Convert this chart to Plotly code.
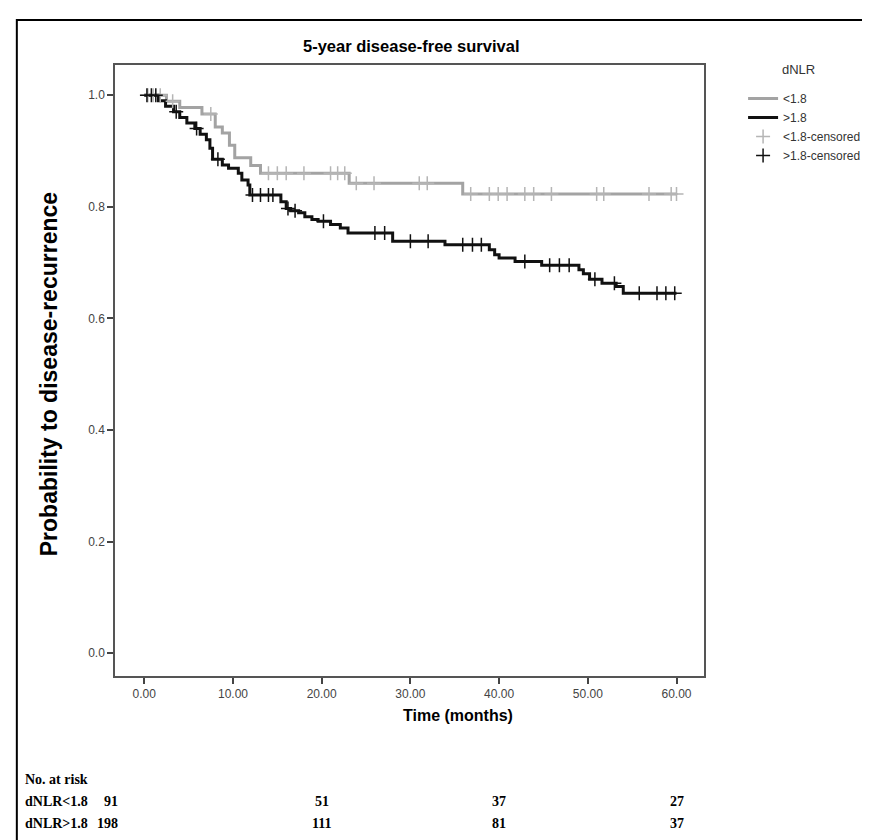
import plotly.graph_objects as go

# ---------------- data ----------------
group_labels = ["<1.8", ">1.8"]
end_time = 60.0

# dNLR < 1.8 : step times (months) and survival after each step
lt_step_times = [0, 2.5, 4.0, 6.5, 8.0, 8.8, 9.6, 10.2, 12.0, 13.1, 23.1, 35.9]
lt_step_surv = [1.0, 0.989, 0.978, 0.966, 0.943, 0.932, 0.910, 0.888, 0.874, 0.860, 0.842, 0.823]
lt_censored = [0.4, 1.0, 1.8, 3.2, 7.5, 14.0, 15.0, 16.0, 18.0, 21.0, 21.8, 22.6, 23.9,
               25.9, 31.0, 31.9, 36.8, 38.9, 39.9, 40.9, 42.9, 43.9, 45.9, 51.0, 51.8,
               56.9, 59.4, 60.0]

# dNLR > 1.8
gt_step_times = [0, 1.6, 2.4, 3.3, 4.0, 4.8, 5.7, 6.3, 7.0, 7.4, 7.7, 8.8, 9.5, 10.6,
                 11.0, 11.7, 11.9, 15.4, 16.0, 16.5, 17.4, 18.1, 18.9, 19.6, 21.0, 22.1,
                 22.97, 28.0, 33.9, 38.9, 39.5, 40.0, 41.8, 44.8, 49.0, 49.5, 50.2, 51.6,
                 53.2, 54.0]
gt_step_surv = [1.0, 0.990, 0.980, 0.970, 0.960, 0.950, 0.940, 0.930, 0.920, 0.905, 0.885,
                0.875, 0.869, 0.860, 0.848, 0.839, 0.821, 0.809, 0.797, 0.793, 0.789,
                0.782, 0.777, 0.774, 0.768, 0.762, 0.753, 0.738, 0.732, 0.723, 0.714,
                0.708, 0.702, 0.695, 0.687, 0.680, 0.670, 0.663, 0.657, 0.645]
gt_censored = [0.3, 0.8, 1.3, 3.6, 5.9, 8.3, 12.2, 13.1, 14.0, 14.5, 16.2, 17.0, 20.2,
               26.0, 27.1, 30.0, 32.0, 35.9, 37.0, 38.0, 42.9, 45.7, 46.8, 47.9, 50.8,
               53.0, 55.8, 57.8, 58.8, 59.8]

x_ticks = [0, 10, 20, 30, 40, 50, 60]
y_ticks = [0.0, 0.2, 0.4, 0.6, 0.8, 1.0]

risk_times = [0, 20, 40, 60]
risk_lt = [91, 51, 37, 27]
risk_gt = [198, 111, 81, 37]
risk_row_labels = ["dNLR<1.8", "dNLR>1.8"]


def surv_at(t, times, surv):
    s = surv[0]
    for tt, ss in zip(times, surv):
        if tt <= t:
            s = ss
    return s


# plot-area geometry in pixels (for placing texts)
L, R, T, B = 107, 725, 57, 668
W, H = R - L, B - T


def px(x):
    return (x - L) / W


def py(y):
    return (B - y) / H


fig = go.Figure()

gray = "#a3a3a3"
black = "#111111"

for name, times, surv, col in [
    (group_labels[0], lt_step_times, lt_step_surv, gray),
    (group_labels[1], gt_step_times, gt_step_surv, black),
]:
    fig.add_trace(go.Scatter(
        x=times + [end_time], y=surv + [surv[-1]], mode="lines",
        line=dict(shape="hv", color=col, width=3), name=name))

for name, cens, times, surv, col in [
    (group_labels[0] + "-censored", lt_censored, lt_step_times, lt_step_surv, "#b5b5b5"),
    (group_labels[1] + "-censored", gt_censored, gt_step_times, gt_step_surv, black),
]:
    fig.add_trace(go.Scatter(
        x=cens, y=[surv_at(c, times, surv) for c in cens], mode="markers",
        marker=dict(symbol="cross-thin", size=10, line=dict(color=col, width=1.5)),
        name=name))

axis_common = dict(showgrid=False, zeroline=False, showline=True, mirror=True,
                   linecolor="#555555", linewidth=1.5, ticks="outside", ticklen=6,
                   tickcolor="#444444", tickwidth=1.5,
                   tickfont=dict(family="Arial, Liberation Sans", size=12, color="#444444"))

fig.update_xaxes(range=[-3.3, 63.1], tickvals=x_ticks, tickformat=".2f", **axis_common)
fig.update_yaxes(range=[-0.041, 1.054], tickvals=y_ticks, tickformat=".1f", **axis_common)

fig.update_layout(
    width=870, height=840,
    margin=dict(l=L, r=870 - R, t=T, b=840 - B),
    plot_bgcolor="white", paper_bgcolor="white",
    font=dict(family="Arial, Liberation Sans", color="#333333"),
    legend=dict(x=px(766), y=py(76), xanchor="left", yanchor="top",
                bgcolor="rgba(0,0,0,0)",
                font=dict(size=12, color="#333333"), tracegroupgap=0, itemwidth=30),
    showlegend=True,
)

bold = dict(family="Arial, Liberation Sans", color="black")

# chart title
fig.add_annotation(text="<b>5-year disease-free survival</b>", xref="paper", yref="paper",
                   x=px(418), y=py(38), xanchor="center", yanchor="middle",
                   showarrow=False, font=dict(size=16.5, **bold))
# axis titles
fig.add_annotation(text="<b>Time (months)</b>", xref="paper", yref="paper",
                   x=px(467), y=py(707), xanchor="center", yanchor="middle",
                   showarrow=False, font=dict(size=16, **bold))
fig.add_annotation(text="<b>Probability to disease-recurrence</b>", xref="paper",
                   yref="paper", x=px(38), y=py(366), xanchor="center", yanchor="middle",
                   textangle=-90, showarrow=False, font=dict(size=23, **bold))
# legend title
fig.add_annotation(text="dNLR", xref="paper", yref="paper", x=px(805), y=py(62),
                   xanchor="left", yanchor="middle", showarrow=False,
                   font=dict(family="Arial, Liberation Sans", size=13, color="#333333"))

# outer frame
fig.add_shape(type="rect", xref="paper", yref="paper", x0=px(4), x1=px(900), y0=py(900),
              y1=py(12), line=dict(color="black", width=2))

# risk table
serif = "Liberation Serif, Times New Roman"
fig.add_annotation(text="<b>No. at risk</b>", xref="paper", yref="paper",
                   x=px(10), y=py(771), xanchor="left", yanchor="middle",
                   showarrow=False, font=dict(family=serif, size=14, color="black"))
for row, (lab, vals) in enumerate(zip(risk_row_labels, [risk_lt, risk_gt])):
    ypos = py(793 + 22 * row)
    fig.add_annotation(text="<b>" + lab + "</b>", xref="paper", yref="paper",
                       x=px(10), y=ypos, xanchor="left", yanchor="middle",
                       showarrow=False, font=dict(family=serif, size=14, color="black"))
    fig.add_annotation(text="<b>" + str(vals[0]) + "</b>", xref="paper", yref="paper",
                       x=px(112), y=ypos, xanchor="right", yanchor="middle",
                       showarrow=False, font=dict(family=serif, size=14, color="black"))
    for t, v in zip(risk_times[1:], vals[1:]):
        fig.add_annotation(text="<b>" + str(v) + "</b>", xref="x", yref="paper",
                           x=t, y=ypos, xanchor="center", yanchor="middle",
                           showarrow=False, font=dict(family=serif, size=14, color="black"))

fig.write_html("out.html")
